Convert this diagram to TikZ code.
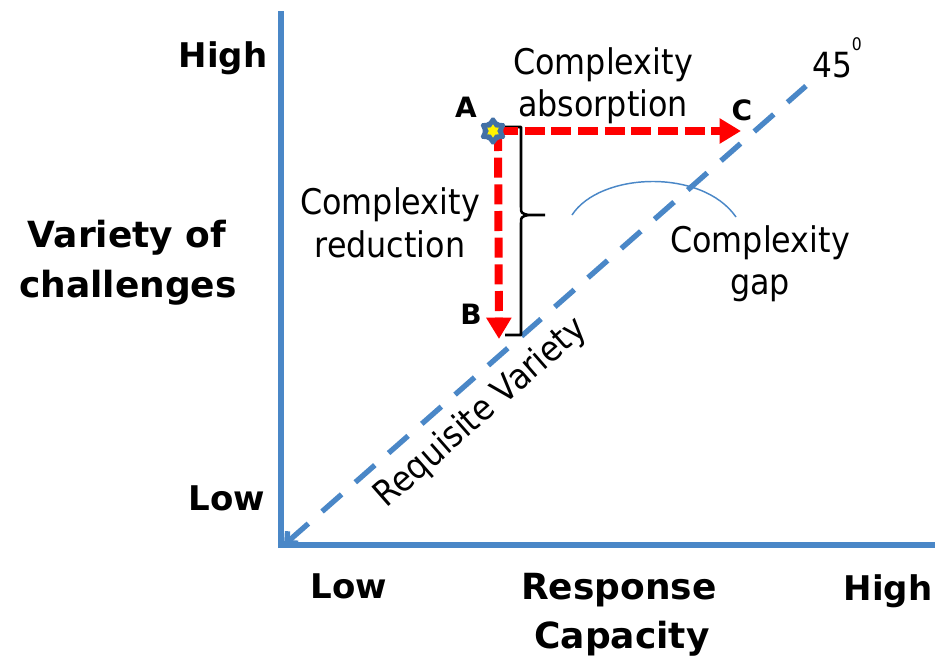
\documentclass[tikz,border=0pt]{standalone}
\usepackage{fontspec}
\setmainfont{DejaVu Sans}
\newfontfamily\condfont[FakeStretch=0.9]{DejaVu Sans}
\usetikzlibrary{arrows.meta,shapes.geometric}
\definecolor{axisblue}{RGB}{74,135,199}
\definecolor{starblue}{RGB}{66,112,166}
\definecolor{starred}{RGB}{255,0,0}
\begin{document}
\begin{tikzpicture}[x=0.75pt,y=-0.75pt,
  axisline/.style={draw=axisblue,line width=4.5pt},
  diagline/.style={draw=axisblue,line width=4pt,dash pattern=on 19.5pt off 13.7pt},
  reddash/.style={draw=starred,line width=6pt,dash pattern=on 15pt off 5pt,
     -{Triangle[length=16pt,width=18pt,fill=starred]}},
  bracepath/.style={draw=black,line width=1.9pt},
  gaparc/.style={draw=axisblue,line width=1.1pt},
  boldlbl/.style={inner sep=0pt,anchor=base,font=\bfseries\fontsize{25.5pt}{30pt}\selectfont},
  biglbl/.style={inner sep=0pt,anchor=base,font=\bfseries\fontsize{27pt}{32pt}\selectfont},
  letterlbl/.style={inner sep=0pt,anchor=base,font=\bfseries\fontsize{21pt}{25pt}\selectfont},
  normlbl/.style={inner sep=0pt,anchor=base,font=\condfont\fontsize{26.5pt}{31pt}\selectfont},
]
\useasboundingbox (0,0) rectangle (936,665);

% axes
\coordinate (O) at (281,544.5);
\coordinate (Ytop) at (281,11);
\coordinate (Ybot) at (281,548);
\coordinate (Xleft) at (278,544.5);
\coordinate (Xright) at (935,544.5);
\draw[axisline] (Ybot) -- (Ytop);
\draw[axisline] (Xleft) -- (Xright);

% diagonal (requisite variety)
\coordinate (Dstart) at (284,545);
\coordinate (Dend) at (806,86);
\draw[diagline,{Straight Barb[length=6pt,width=12pt]}-] (Dstart) -- (Dend);

% complexity gap arc
\coordinate (Gs) at (572,215);
\coordinate (Ge) at (736,217);
\draw[gaparc] (Gs) .. controls (600,172) and (702,168) .. (Ge);

% brace
\draw[bracepath,line join=round] (505,127) -- (521,127) -- (521,207) .. controls (521,213) .. (528,215) -- (545,215);
\draw[bracepath,line join=round] (505,335) -- (521,335) -- (521,223) .. controls (521,217) .. (528,215);

% red arrows
\coordinate (Apt) at (498,131);
\coordinate (Cpt) at (741,131);
\coordinate (Bpt) at (499,339);
\draw[reddash] (Apt) -- (Cpt);
\draw[reddash] (Apt) -- (Bpt);

% star at A
\node[star,star points=6,star point ratio=1.55,minimum size=21pt,inner sep=0pt,
      fill=starblue,draw=starblue,line width=1pt,rounded corners=1.2pt] (star) at (493,131) {};
\node[star,star points=6,star point ratio=1.6,minimum size=10pt,inner sep=0pt,
      fill=yellow,draw=none] (starin) at (star.center) {};

% labels
\node[boldlbl] (highL) at (223,67) {High};
\node[boldlbl] (lowL) at (227,510) {Low};
\node[biglbl] (var1) at (127,247) {Variety of};
\node[biglbl] (var2) at (128,297) {challenges};
\node[boldlbl] (lowB) at (349,598) {Low};
\node[biglbl] (resp1) at (619,599) {Response};
\node[biglbl] (resp2) at (622,648) {Capacity};
\node[boldlbl] (highR) at (888,600) {High};

\node[letterlbl] (Alab) at (466,117) {A};
\node[letterlbl] (Clab) at (742,120) {C};
\node[letterlbl] (Blab) at (471,324) {B};

\node[normlbl] (abs1) at (603,74) {Complexity};
\node[normlbl] (abs2) at (603,116) {absorption};
\node[normlbl] (red1) at (390,214) {Complexity};
\node[normlbl] (red2) at (390,257) {reduction};
\node[normlbl] (gap1) at (760,252) {Complexity};
\node[normlbl] (gap2) at (760,294) {gap};

\node[inner sep=0pt,anchor=base west,font=\condfont\fontsize{26pt}{30pt}\selectfont] (deg) at (812,77)
  {45\raisebox{20pt}{\fontsize{13pt}{15pt}\selectfont 0}};

\node[inner sep=0pt,font=\condfont\fontsize{26.5pt}{31pt}\selectfont,rotate=41.3] (req) at (481,413) {Requisite Variety};
\end{tikzpicture}
\end{document}
